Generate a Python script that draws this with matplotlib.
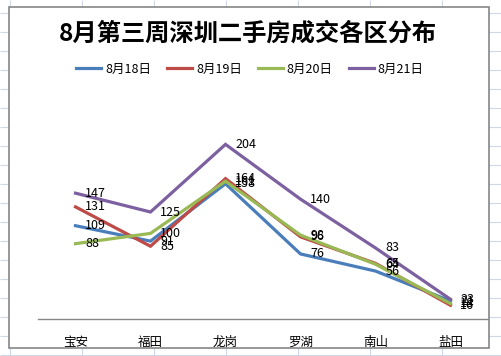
import matplotlib

matplotlib.use("Agg")
import matplotlib.pyplot as plt
from matplotlib.patches import Rectangle

plt.rcParams["font.family"] = ["Noto Sans CJK SC", "DejaVu Sans"]

# data
districts = ["宝安", "福田", "龙岗", "罗湖", "南山", "盐田"]
series_names = ["8月18日", "8月19日", "8月20日", "8月21日"]
aug18 = [109, 91, 158, 76, 56, 21]
aug19 = [131, 85, 164, 96, 65, 16]
aug20 = [88, 100, 161, 98, 64, 18]
aug21 = [147, 125, 204, 140, 83, 23]
colors = ["#4A7EBB", "#BE4B48", "#98B954", "#7D60A0"]

W, H = 501, 356
fig = plt.figure(figsize=(W / 100, H / 100), dpi=100)

# spreadsheet grid behind the chart object
bg = fig.add_axes([0, 0, 1, 1])
bg.set_xlim(0, W)
bg.set_ylim(H, 0)
bg.axis("off")
bg.hlines([13 + 19 * k for k in range(19)], 0, W, color="#D0D7E5", lw=0.8)
bg.vlines([10 + 72 * k for k in range(8)], 0, H, color="#D0D7E5", lw=0.8)
bg.add_patch(Rectangle((9.5, 6.5), 480, 341.5, facecolor="white",
                       edgecolor="#868686", lw=1.2, zorder=3))
bg.text(248, 34, "8月第三周深圳二手房成交各区分布", ha="center", va="center",
        fontsize=17.5, fontweight="bold", zorder=4)

# plot area
left, right, bottom, top = 38 / W, 488 / W, 1 - 319 / H, 1 - 105 / H
ax = fig.add_axes([left, bottom, right - left, top - bottom])
ax.set_facecolor("none")
x = [i + 0.5 for i in range(len(districts))]
for name, vals, c in zip(series_names, [aug18, aug19, aug20, aug21], colors):
    ax.plot(x, vals, color=c, lw=2.3, label=name, solid_joinstyle="miter")
    for xi, v in zip(x, vals):
        ax.annotate(str(v), (xi, v), xytext=(7, 0), textcoords="offset points",
                    ha="left", va="center", fontsize=9)

ax.set_xlim(0, len(districts))
ax.set_ylim(0, 250)
ax.set_xticks(x)
ax.set_xticklabels(districts, fontsize=9)
ax.tick_params(axis="x", length=0, pad=12)
ax.set_yticks([])
for s in ["top", "right", "left"]:
    ax.spines[s].set_visible(False)
ax.spines["bottom"].set_color("#868686")
ax.spines["bottom"].set_linewidth(1.0)

ax.legend(loc="center", bbox_to_anchor=(250 / W, 1 - 69 / H),
          bbox_transform=fig.transFigure, ncol=4, frameon=False, fontsize=9,
          handlelength=2.0, handletextpad=0.3, columnspacing=1.3)

fig.savefig("out.png", dpi=100)
